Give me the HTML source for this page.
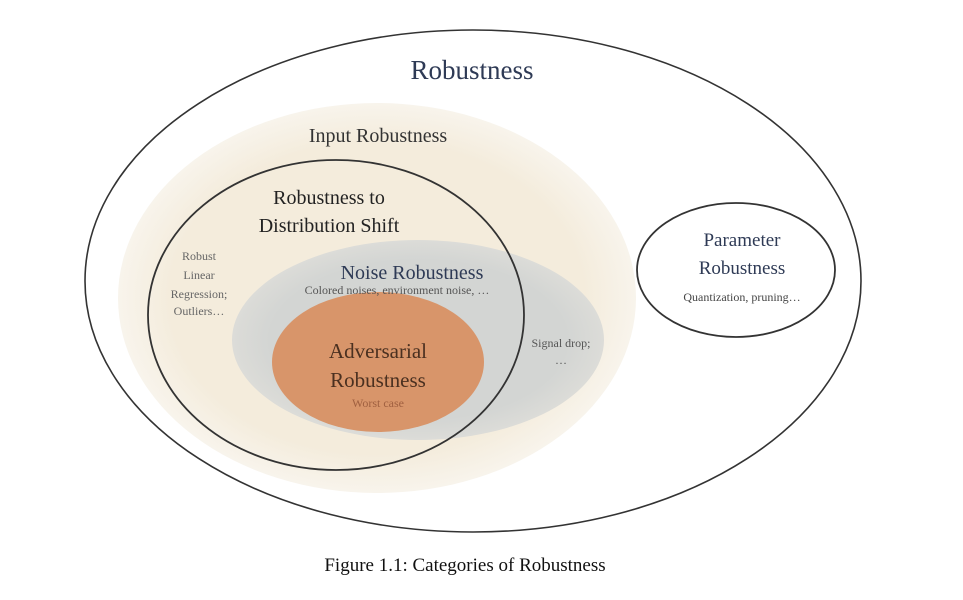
<!DOCTYPE html>
<html><head><style>
html,body{margin:0;padding:0;background:#fff;}
svg{display:block;}
text{font-family:"Liberation Serif","DejaVu Serif",serif;}
</style></head><body>
<svg width="963" height="600" viewBox="0 0 963 600" xmlns="http://www.w3.org/2000/svg">
<defs>
<radialGradient id="bg" cx="50%" cy="50%" r="50%">
<stop offset="0.8" stop-color="#f4ecdc"/><stop offset="1" stop-color="#f8f4ec"/>
</radialGradient>
<radialGradient id="gg" cx="50%" cy="50%" r="50%">
<stop offset="0.8" stop-color="#d3d5d3"/><stop offset="1" stop-color="#dcdcd8"/>
</radialGradient>
</defs>
<ellipse cx="473" cy="281" rx="388" ry="251" fill="#fff" stroke="#333" stroke-width="1.6"/>
<ellipse cx="377" cy="298" rx="259" ry="195" fill="url(#bg)"/>
<ellipse cx="418" cy="340" rx="186" ry="100" fill="url(#gg)"/>
<ellipse cx="378" cy="362" rx="106" ry="70" fill="#d8956a"/>
<ellipse cx="336" cy="315" rx="188" ry="155" fill="none" stroke="#333" stroke-width="1.8"/>
<ellipse cx="736" cy="270" rx="99" ry="67" fill="#fff" stroke="#333" stroke-width="1.8"/>
<text x="472" y="79" font-size="27" fill="#2e3a55" text-anchor="middle">Robustness</text>
<text x="378" y="142" font-size="20" fill="#333" text-anchor="middle">Input Robustness</text>
<text x="329" y="204" font-size="20" fill="#222" text-anchor="middle">Robustness to</text>
<text x="329" y="232" font-size="20" fill="#222" text-anchor="middle">Distribution Shift</text>
<text x="199" y="260" font-size="12" fill="#666" text-anchor="middle">Robust</text>
<text x="199" y="279" font-size="12" fill="#666" text-anchor="middle">Linear</text>
<text x="199" y="298" font-size="12" fill="#666" text-anchor="middle">Regression;</text>
<text x="199" y="315" font-size="12" fill="#666" text-anchor="middle">Outliers…</text>
<text x="412" y="279" font-size="20" fill="#2e3a55" text-anchor="middle">Noise Robustness</text>
<text x="397" y="294" font-size="12" fill="#555" text-anchor="middle">Colored noises, environment noise, …</text>
<text x="378" y="358" font-size="21" fill="#4a3020" text-anchor="middle">Adversarial</text>
<text x="378" y="387" font-size="21" fill="#4a3020" text-anchor="middle">Robustness</text>
<text x="378" y="407" font-size="12" fill="#a06040" text-anchor="middle">Worst case</text>
<text x="561" y="347" font-size="12" fill="#555" text-anchor="middle">Signal drop;</text>
<text x="561" y="364" font-size="12" fill="#555" text-anchor="middle">…</text>
<text x="742" y="246" font-size="19" fill="#2e3a55" text-anchor="middle">Parameter</text>
<text x="742" y="274" font-size="19" fill="#2e3a55" text-anchor="middle">Robustness</text>
<text x="742" y="301" font-size="12" fill="#444" text-anchor="middle">Quantization, pruning…</text>
<text x="465" y="571" font-size="19" fill="#111" text-anchor="middle">Figure 1.1: Categories of Robustness</text>
</svg>
</body></html>
